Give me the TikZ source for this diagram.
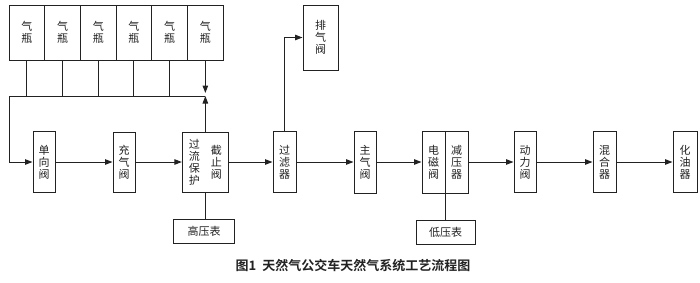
\documentclass[tikz,border=0pt]{standalone}
\usepackage{fontspec}
\usepackage{tikz}
\usetikzlibrary{arrows.meta,positioning,calc}
\newfontfamily\cjk{Noto Sans CJK SC}
\newfontfamily\cjkbold{Noto Sans CJK SC Bold}
\definecolor{lninkgray}{HTML}{222222}

\begin{document}
\begin{tikzpicture}[x=1pt,y=-1pt,
    box/.style={draw=lninkgray, line width=1pt, inner sep=0pt, align=center,
      text=lninkgray, font=\cjk\fontsize{11}{12}\selectfont},
    flow/.style={draw=lninkgray, line width=1pt, -{Triangle[length=7.5pt,width=5.5pt]}},
    plain/.style={draw=lninkgray, line width=1pt}]
  \useasboundingbox (0,0) rectangle (700,282);
  % gas cylinders
  \foreach \i in {1,...,6}{
    \node[box, minimum width=35.7pt, minimum height=55pt] (c\i) at (9+35.7*\i-17.85,32.5) {气\\瓶};
  }
  \coordinate (lt) at (9,96);
  \coordinate (jn) at (c6.south |- lt);
  % main line
  \node[box, minimum width=22pt, minimum height=61pt] (dxf) at (44,162) {单\\向\\阀};
  \node[box, minimum width=22pt, minimum height=60pt] (cqf) at (124,162) {充\\气\\阀};
  \node[box, minimum width=46pt, minimum height=60pt] (jzf) at (c6.south |- 0,162) {};
  \node[box, draw=none] (glbh) at ($(jzf.center)+(-11,0)$) {过\\流\\保\\护};
  \node[box, draw=none] (jzft) at ($(jzf.center)+(11,0)$) {截\\止\\阀};
  \node[box, minimum width=61pt, minimum height=24pt] (gyb) at (204,231) {高压表};
  \node[box, minimum width=23pt, minimum height=61pt] (glq) at (284.5,162) {过\\滤\\器};
  \node[box, minimum width=35pt, minimum height=65pt] (pqf) at (320.5,37.5) {排\\气\\阀};
  \node[box, minimum width=22pt, minimum height=62pt] (zqf) at (365,162) {主\\气\\阀};
  \node[box, minimum width=23pt, minimum height=62pt] (dcf) at (433.5,162) {电\\磁\\阀};
  \node[box, minimum width=23pt, minimum height=62pt] (jyq) at (456.5,162) {减\\压\\器};
  \node[box, minimum width=59pt, minimum height=24pt] (dyb) at (445.5,232) {低压表};
  \node[box, minimum width=22pt, minimum height=61pt] (dlf) at (525,162) {动\\力\\阀};
  \node[box, minimum width=23pt, minimum height=61pt] (hhq) at (604.5,162) {混\\合\\器};
  \node[box, minimum width=24pt, minimum height=61pt] (hyq) at (685,162) {化\\油\\器};
  % connectors
  \foreach \i in {1,...,5}{
    \draw[plain] (c\i.south) -- (c\i.south |- lt);
  }
  \draw[plain] (lt) -- (jn);
  \draw[flow, shorten >=3pt] (c6.south) -- (jn);
  \draw[flow] (jzf.north) -- (jn);
  \draw[flow] (lt) |- (dxf.west);
  \draw[flow] (dxf) -- (cqf);
  \draw[flow] (cqf) -- (jzf);
  \draw[flow] (jzf) -- (glq);
  \draw[flow] (glq) -- (zqf);
  \draw[flow] (zqf) -- (dcf);
  \draw[flow] (jyq) -- (dlf);
  \draw[flow] (dlf) -- (hhq);
  \draw[flow] (hhq) -- (hyq);
  \draw[flow] (glq.north) |- (pqf.west);
  \draw[plain] (gyb.north -| jzf.south) -- (jzf.south);
  \draw[plain] (dcf.south east) -- (dcf.south east |- dyb.north);
  % caption
  \node[font=\cjkbold\fontsize{13}{15}\selectfont, text=lninkgray] (title) at (353,266) {图1\ \ 天然气公交车天然气系统工艺流程图};
\end{tikzpicture}
\end{document}
